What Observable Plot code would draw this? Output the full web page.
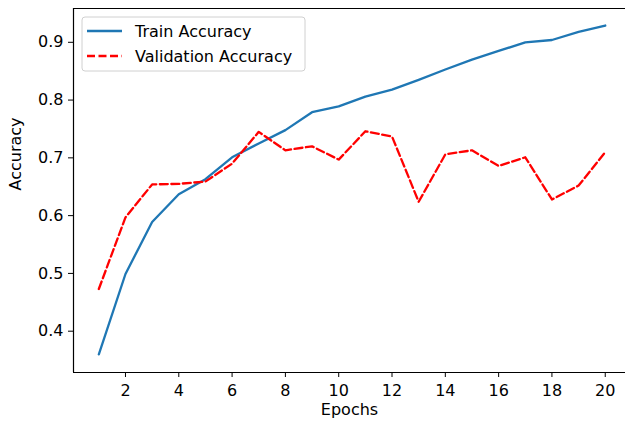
<!DOCTYPE html>
<html>
<head>
<meta charset="utf-8">
<script src="https://cdn.jsdelivr.net/npm/d3@7"></script>
<script src="https://cdn.jsdelivr.net/npm/@observablehq/plot@0.6"></script>
<style>
  html, body { margin: 0; padding: 0; background: #fff; }
  #chart svg { display: block; }
</style>
</head>
<body>
<div id="chart"></div>
<script>
const epochs = [1,2,3,4,5,6,7,8,9,10,11,12,13,14,15,16,17,18,19,20];
const trainAccuracy = [0.360,0.499,0.589,0.637,0.663,0.701,0.725,0.748,0.779,0.789,0.806,0.818,0.835,0.853,0.870,0.885,0.900,0.904,0.918,0.929];
const valAccuracy = [0.473,0.597,0.654,0.655,0.659,0.690,0.745,0.713,0.720,0.697,0.746,0.737,0.624,0.706,0.713,0.686,0.701,0.628,0.652,0.710];
const xTicks = [2,4,6,8,10,12,14,16,18,20];
const yTicks = [0.4,0.5,0.6,0.7,0.8,0.9];
const seriesNames = ["Train Accuracy", "Validation Accuracy"];
const seriesColors = ["#1f77b4", "#ff0000"];

const train = epochs.map((e, i) => ({epoch: e, acc: trainAccuracy[i]}));
const val = epochs.map((e, i) => ({epoch: e, acc: valAccuracy[i]}));

const font = "DejaVu Sans, sans-serif";
const chart = Plot.plot({
  width: 625,
  height: 427,
  marginLeft: 73,
  marginRight: 0,
  marginTop: 8,
  marginBottom: 55,
  style: {fontFamily: font, fontSize: "16px", color: "#000", background: "#fff"},
  x: {domain: [0.05, 20.76]},
  y: {domain: [0.3285, 0.9585]},
  marks: [
    Plot.axisX({ticks: xTicks, tickSize: 5, tickPadding: 7, label: null, stroke: "#000", fontSize: 16}),
    Plot.axisY({ticks: yTicks, tickSize: 5, tickPadding: 5, tickFormat: d3.format(".1f"), label: null, stroke: "#000", fontSize: 16}),
    Plot.ruleY([0.3285], {stroke: "#000", strokeWidth: 1.2}),
    Plot.ruleY([0.9585], {stroke: "#000", strokeWidth: 1.2}),
    Plot.ruleX([0.05], {stroke: "#000", strokeWidth: 1.2}),
    Plot.line(train, {x: "epoch", y: "acc", stroke: seriesColors[0], strokeWidth: 2.3}),
    Plot.line(val, {x: "epoch", y: "acc", stroke: seriesColors[1], strokeWidth: 2.3, strokeDasharray: "8,3.5"}),
    Plot.text(["Epochs"], {frameAnchor: "bottom", dy: 42, fontSize: 16, fill: "#000"}),
    Plot.text(["Accuracy"], {frameAnchor: "left", dx: -58, rotate: -90, fontSize: 16, fill: "#000"})
  ]
});

// legend inside the axes (upper left)
const svg = d3.select(chart);
const lg = svg.append("g").attr("font-family", font).attr("font-size", 16).attr("text-anchor", "start");
lg.append("rect").attr("x", 82).attr("y", 17).attr("width", 223).attr("height", 54)
  .attr("rx", 3).attr("fill", "#fff").attr("fill-opacity", 0.8).attr("stroke", "#d0d0d0");
seriesNames.forEach((name, i) => {
  const y = 31 + i * 25;
  lg.append("line").attr("x1", 87).attr("x2", 122).attr("y1", y).attr("y2", y)
    .attr("stroke", seriesColors[i]).attr("stroke-width", 2.3)
    .attr("stroke-dasharray", i === 1 ? "8,3.5" : null);
  lg.append("text").attr("x", 135).attr("y", y).attr("dy", "0.35em")
    .attr("text-anchor", "start").attr("fill", "#000").text(name);
});

document.getElementById("chart").appendChild(chart);
</script>
</body>
</html>
